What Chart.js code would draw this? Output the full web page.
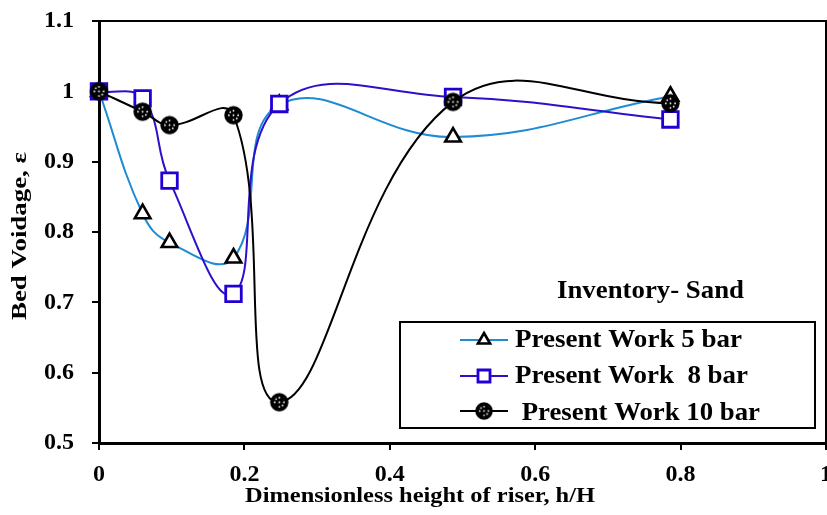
<!DOCTYPE html>
<html>
<head>
<meta charset="utf-8">
<title>Bed Voidage vs Dimensionless Riser Height</title>
<script src="https://cdn.jsdelivr.net/npm/chart.js@4/dist/chart.umd.min.js"></script>
<style>
  html, body { margin: 0; padding: 0; background: #fff; }
  #wrap { width: 827px; height: 515px; position: relative; }
</style>
</head>
<body>
<div id="wrap"><canvas id="chart" width="827" height="515"></canvas></div>
<script>
// Dimensionless height of riser h/H at the measuring ports
const hOverH = [0, 0.06, 0.097, 0.185, 0.248, 0.487, 0.786];

// Bed voidage at each port
const voidage5bar  = [1.000, 0.826, 0.785, 0.763, 0.981, 0.935, 0.993];
const voidage8bar  = [1.000, 0.990, 0.873, 0.712, 0.982, 0.992, 0.960];
const voidage10bar = [1.000, 0.971, 0.952, 0.966, 0.558, 0.985, 0.983];

const seriesLabels = ['Present Work 5 bar', 'Present Work  8 bar', ' Present Work 10 bar'];

// Axis ticks
const xTicks = [0, 0.2, 0.4, 0.6, 0.8, 1];
const yTicks = [0.5, 0.6, 0.7, 0.8, 0.9, 1, 1.1];

const xTitle = 'Dimensionless height of riser, h/H';
const yTitle = 'Bed Voidage, \u03b5';
const noteText = 'Inventory- Sand';

const SERIF = '"Liberation Serif", "Times New Roman", serif';

// black disc with small white dots used as the 10 bar marker
function dottedDisc(r) {
  const s = Math.ceil(r * 2 + 2);
  const c = document.createElement('canvas');
  c.width = s; c.height = s;
  const g = c.getContext('2d');
  const m = s / 2;
  g.fillStyle = '#000';
  g.beginPath(); g.arc(m, m, r, 0, Math.PI * 2); g.fill();
  g.fillStyle = '#fff';
  const dots = [[0, 0], [0, -0.5], [0, 0.5], [-0.5, 0], [0.5, 0], [-0.35, -0.35], [0.35, 0.35]];
  dots.forEach(([dx, dy]) => {
    g.beginPath(); g.arc(m + dx * r, m + dy * r, 0.9, 0, Math.PI * 2); g.fill();
  });
  return c;
}
const discMarker = dottedDisc(9.2);

const toPoints = ys => hOverH.map((x, i) => ({ x, y: ys[i] }));

const datasets = [
  {
    label: seriesLabels[0],
    data: toPoints(voidage5bar),
    borderColor: '#1f8bd3',
    borderWidth: 2,
    pointStyle: 'triangle',
    pointRadius: 9,
    pointBorderWidth: 2.6,
    pointBorderColor: '#000',
    pointBackgroundColor: '#fff',
    tension: 0.42,
    order: 3
  },
  {
    label: seriesLabels[1],
    data: toPoints(voidage8bar),
    borderColor: '#2d10cc',
    borderWidth: 2,
    pointStyle: 'rect',
    pointRadius: 11,
    pointBorderWidth: 2.8,
    pointBorderColor: '#2200d4',
    pointBackgroundColor: '#fff',
    tension: 0.42,
    order: 2
  },
  {
    label: seriesLabels[2],
    data: toPoints(voidage10bar),
    borderColor: '#000',
    borderWidth: 2,
    pointStyle: discMarker,
    pointRadius: 9,
    tension: 0.42,
    order: 1
  }
];

// draws text squeezed/stretched along its run to a given length
function fitText(ctx, text, x, y, width, angle) {
  ctx.save();
  ctx.translate(x, y);
  ctx.rotate(angle || 0);
  const w = ctx.measureText(text).width;
  ctx.scale(width / w, 1);
  ctx.fillText(text, 0, 0);
  ctx.restore();
}

const decor = {
  id: 'decor',
  beforeDatasetsDraw(chart) {
    const { ctx, chartArea: a } = chart;
    ctx.save();
    ctx.strokeStyle = '#000';
    ctx.lineWidth = 2;
    ctx.beginPath();
    ctx.moveTo(a.left, a.top);
    ctx.lineTo(a.right, a.top);
    ctx.lineTo(a.right, a.bottom);
    ctx.stroke();
    ctx.restore();
  },
  afterDraw(chart) {
    const { ctx } = chart;
    ctx.save();
    ctx.fillStyle = '#000';
    ctx.textBaseline = 'alphabetic';

    // axis titles
    ctx.font = 'bold 22px ' + SERIF;
    ctx.textAlign = 'center';
    fitText(ctx, xTitle, 420, 502, 350, 0);
    ctx.font = 'bold 21px ' + SERIF;
    fitText(ctx, yTitle, 26, 236, 168, -Math.PI / 2);

    // note
    ctx.font = 'bold 25px ' + SERIF;
    ctx.textAlign = 'left';
    fitText(ctx, noteText, 557, 298, 187, 0);

    // legend box
    const box = { x: 400, y: 322, w: 415, h: 106 };
    ctx.fillStyle = '#fff';
    ctx.fillRect(box.x, box.y, box.w, box.h);
    ctx.strokeStyle = '#000';
    ctx.lineWidth = 2;
    ctx.strokeRect(box.x, box.y, box.w, box.h);

    const rows = [
      { cy: 340, base: 347, width: 227 },
      { cy: 376, base: 383, width: 233 },
      { cy: 411, base: 420, width: 245 }
    ];
    chart.data.datasets.forEach((ds, i) => {
      const r = rows[i];
      ctx.strokeStyle = ds.borderColor;
      ctx.lineWidth = 2;
      ctx.beginPath();
      ctx.moveTo(460, r.cy);
      ctx.lineTo(508, r.cy);
      ctx.stroke();
      const ps = ds.pointStyle;
      if (typeof ps === 'string') {
        ctx.strokeStyle = ds.pointBorderColor;
        ctx.fillStyle = ds.pointBackgroundColor;
        ctx.lineWidth = ds.pointBorderWidth;
        Chart.helpers.drawPoint(ctx, {
          pointStyle: ps,
          radius: ps === 'rect' ? 8.5 : 7,
          borderWidth: ds.pointBorderWidth,
          rotation: 0
        }, 484, r.cy);
      } else {
        ctx.drawImage(ps, 484 - ps.width / 2 + 0.5, r.cy - ps.height / 2 + 0.5, ps.width - 1, ps.height - 1);
      }
      ctx.fillStyle = '#000';
      ctx.font = 'bold 25px ' + SERIF;
      ctx.textAlign = 'left';
      fitText(ctx, ds.label, 515, r.base, r.width, 0);
    });
    ctx.restore();
  }
};

const tickFont = { family: SERIF, size: 24, weight: 'bold' };

new Chart(document.getElementById('chart'), {
  type: 'line',
  data: { datasets },
  options: {
    responsive: false,
    animation: false,
    events: [],
    layout: { autoPadding: false, padding: { left: 0, right: 1, top: 21, bottom: 0 } },
    datasets: { line: { clip: false } },
    plugins: {
      legend: { display: false },
      tooltip: { enabled: false }
    },
    scales: {
      x: {
        type: 'linear',
        min: 0,
        max: 1,
        afterBuildTicks: s => { s.ticks = xTicks.map(v => ({ value: v })); },
        afterFit: s => { s.height = 72; s.paddingLeft = 0; s.paddingRight = 0; },
        ticks: {
          font: tickFont,
          color: '#000',
          padding: 10,
          maxRotation: 0,
          autoSkip: false,
          callback: v => String(v)
        },
        grid: { drawOnChartArea: false, drawTicks: true, tickLength: 7, color: '#000', lineWidth: 2 },
        border: { display: true, color: '#000', width: 3 }
      },
      y: {
        type: 'linear',
        min: 0.5,
        max: 1.1,
        afterBuildTicks: s => { s.ticks = yTicks.map(v => ({ value: v })); },
        afterFit: s => { s.width = 99; s.paddingTop = 0; s.paddingBottom = 0; },
        ticks: {
          font: tickFont,
          color: '#000',
          padding: 18,
          autoSkip: false,
          callback: v => String(v)
        },
        grid: { drawOnChartArea: false, drawTicks: true, tickLength: 7, color: '#000', lineWidth: 2 },
        border: { display: true, color: '#000', width: 3 }
      }
    }
  },
  plugins: [decor]
});
</script>
</body>
</html>
